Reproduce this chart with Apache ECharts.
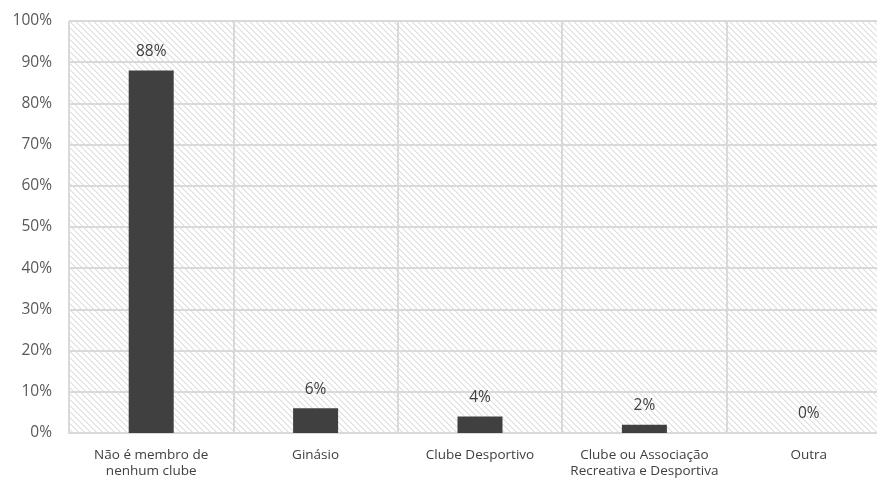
<!DOCTYPE html>
<html>
<head>
<meta charset="utf-8">
<script src="https://cdn.jsdelivr.net/npm/echarts@6/dist/echarts.min.js"></script>
<style>html,body{margin:0;padding:0;background:#fff;}#c{width:877px;height:480px;}</style>
</head>
<body>
<div id="c"></div>
<script>
const categories = ["Não é membro de\nnenhum clube", "Ginásio", "Clube Desportivo", "Clube ou Associação\nRecreativa e Desportiva", "Outra"];
const values = [0.88, 0.06, 0.04, 0.02, 0.00];
const yTicks = [0, 0.1, 0.2, 0.3, 0.4, 0.5, 0.6, 0.7, 0.8, 0.9, 1.0];

function hatch() {
  const n = 6;
  const cv = document.createElement('canvas');
  cv.width = n; cv.height = n;
  const ctx = cv.getContext('2d');
  ctx.fillStyle = '#ffffff';
  ctx.fillRect(0, 0, n, n);
  for (let y = 0; y < n; y++) {
    for (let x = 0; x < n; x++) {
      const d = ((x - y) % n + n) % n;
      if (d === 0) { ctx.fillStyle = '#dedede'; ctx.fillRect(x, y, 1, 1); }
      else if (d === 1) { ctx.fillStyle = '#f0f0f0'; ctx.fillRect(x, y, 1, 1); }
    }
  }
  return cv;
}

const font = '"Open Sans", sans-serif';
const chart = echarts.init(document.getElementById('c'), null, {renderer: 'canvas'});
chart.setOption({
  animation: false,
  backgroundColor: '#ffffff',
  grid: {
    left: 69, top: 21, width: 822, bottom: 47,
    outerBoundsMode: 'none',
    containLabel: false,
    show: true, borderWidth: 0,
    backgroundColor: {image: hatch(), repeat: 'repeat'}
  },
  xAxis: {
    type: 'category',
    data: categories,
    axisLine: {show: true, lineStyle: {color: '#d9d9d9', width: 2}},
    axisTick: {show: false},
    splitLine: {show: true, lineStyle: {color: '#d9d9d9', width: 2}},
    axisLabel: {color: '#404040', fontSize: 13.5, fontFamily: font, lineHeight: 16, margin: 14, interval: 0}
  },
  yAxis: {
    type: 'value',
    min: yTicks[0], max: yTicks[yTicks.length - 1], interval: 0.1,
    axisLine: {show: false},
    axisTick: {show: false},
    splitLine: {show: true, lineStyle: {color: '#d9d9d9', width: 2}},
    axisLabel: {
      color: '#595959', fontSize: 15.5, fontFamily: font, margin: 17,
      formatter: v => Math.round(v * 100) + '%'
    }
  },
  series: [{
    type: 'bar',
    data: values,
    barWidth: 45,
    itemStyle: {color: '#404040'},
    label: {
      show: true, position: 'top', distance: 11,
      color: '#404040', fontSize: 15.5, fontFamily: font,
      formatter: p => Math.round(p.value * 100) + '%'
    }
  }]
});
</script>
</body>
</html>
